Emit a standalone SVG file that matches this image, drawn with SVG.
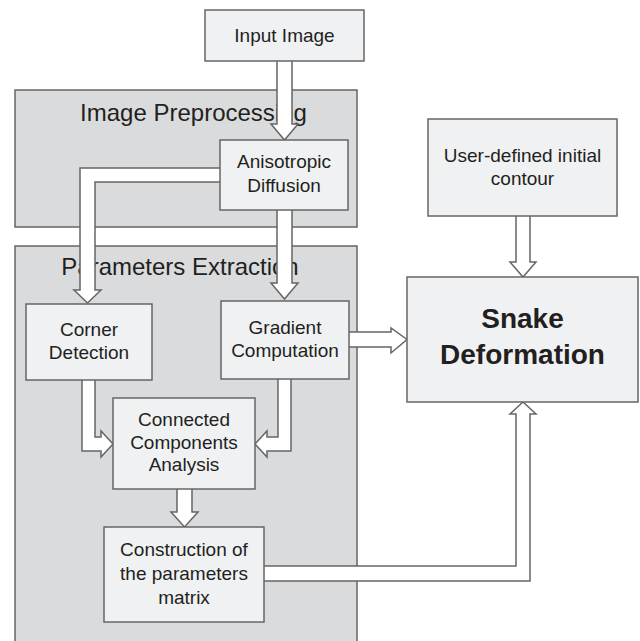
<svg xmlns="http://www.w3.org/2000/svg" width="640" height="641" viewBox="0 0 640 641">
<defs>
<style>
.panel{fill:#dadbdd;stroke:#666;stroke-width:1.5}
.box{fill:#f0f1f3;stroke:#666;stroke-width:1.5}
.arr{fill:#fff;stroke:#666;stroke-width:1.5;stroke-linejoin:miter}
.t{font-family:"Liberation Sans",Arial,sans-serif;font-size:19px;fill:#231f20;text-anchor:middle}
.pt{font-family:"Liberation Sans",Arial,sans-serif;font-size:24px;fill:#231f20;text-anchor:middle}
.big{font-family:"Liberation Sans",Arial,sans-serif;font-size:28px;font-weight:bold;fill:#231f20;text-anchor:middle}
</style>
</defs>
<rect width="640" height="641" fill="#fff"/>
<g id="panel-preprocessing">
<rect class="panel" x="15" y="90" width="342" height="137"/>
<text class="pt" x="193.5" y="121">Image Preprocessing</text>
</g>
<g id="panel-extraction">
<rect class="panel" x="15" y="246" width="342" height="400"/>
<text class="pt" x="180" y="275">Parameters Extraction</text>
</g>
<g id="connectors">
<polygon class="arr" points="276,55 292,55 292,124 298,124 284.5,140 271,124 277,124 277,55" />
<polygon class="arr" points="225,168 80,168 80,290 74,290 87.5,303 101,290 95,290 95,182 225,182"/>
<polygon class="arr" points="277,205 277,283 271,283 284.5,299 298,283 292,283 292,205"/>
<polygon class="arr" points="344,332 391,332 391,328 407,339.5 391,353 391,347 344,347"/>
<polygon class="arr" points="82,375 82,451 101,451 101,457 113,444 101,431 101,437 95,437 95,375"/>
<polygon class="arr" points="278,375 278,437 267,437 267,431 255,444 267,457 267,451 291,451 291,375"/>
<polygon class="arr" points="177,484 177,512 171,512 184.5,527 198,512 192,512 192,484"/>
<polygon class="arr" points="516,211 516,262 510,262 523,277 536,262 530,262 530,211"/>
<polygon class="arr" points="259,566 516,566 516,414 510,414 523,402 536,414 530,414 530,581 259,581"/>
</g>
<g id="input-image">
<rect class="box" x="205" y="10" width="159" height="51"/>
<text class="t" x="284.5" y="42">Input Image</text>
</g>
<g id="anisotropic-diffusion">
<rect class="box" x="220" y="140" width="128" height="70"/>
<text class="t" x="284" y="168">Anisotropic</text>
<text class="t" x="284" y="192">Diffusion</text>
</g>
<g id="corner-detection">
<rect class="box" x="26" y="304" width="126" height="76"/>
<text class="t" x="89" y="336">Corner</text>
<text class="t" x="89" y="358.5">Detection</text>
</g>
<g id="gradient-computation">
<rect class="box" x="221" y="301" width="128" height="78"/>
<text class="t" x="285" y="333.5">Gradient</text>
<text class="t" x="285" y="356.5">Computation</text>
</g>
<g id="connected-components">
<rect class="box" x="113" y="398" width="142" height="91"/>
<text class="t" x="184" y="425.5">Connected</text>
<text class="t" x="184" y="448.5">Components</text>
<text class="t" x="184" y="471">Analysis</text>
</g>
<g id="construction-matrix">
<rect class="box" x="104" y="527" width="160" height="95"/>
<text class="t" x="184" y="555.5">Construction of</text>
<text class="t" x="184" y="579.5">the parameters</text>
<text class="t" x="184" y="603.5">matrix</text>
</g>
<g id="user-contour">
<rect class="box" x="428" y="119" width="189" height="97"/>
<text class="t" x="522.5" y="162">User-defined initial</text>
<text class="t" x="522.5" y="185">contour</text>
</g>
<g id="snake-deformation">
<rect class="box" x="407" y="277" width="231" height="125"/>
<text class="big" x="522.5" y="328">Snake</text>
<text class="big" x="522.5" y="364">Deformation</text>
</g>
</svg>
